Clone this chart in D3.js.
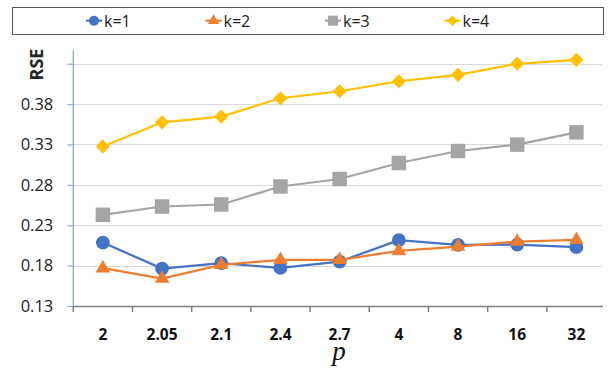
<!DOCTYPE html>
<html>
<head>
<meta charset="utf-8">
<script src="https://cdn.jsdelivr.net/npm/d3@7"></script>
<style>
  html, body { margin: 0; padding: 0; background: #fff; }
  svg { display: block; }
</style>
</head>
<body>
<svg id="chart" width="611" height="371"></svg>
<script>
// Categories on the x axis (values of p)
const categories = ["2", "2.05", "2.1", "2.4", "2.7", "4", "8", "16", "32"];

// RSE per k
const seriesNames = ["k=1", "k=2", "k=3", "k=4"];
const k1 = [0.2085, 0.1763, 0.1830, 0.1771, 0.1850, 0.2115, 0.2057, 0.2061, 0.2028];
const k2 = [0.1768, 0.1639, 0.1809, 0.1871, 0.1871, 0.1982, 0.2036, 0.2098, 0.2119];
const k3 = [0.2429, 0.2532, 0.2557, 0.2780, 0.2872, 0.3070, 0.3219, 0.3298, 0.3450];
const k4 = [0.3276, 0.3574, 0.3645, 0.3872, 0.3959, 0.4083, 0.4162, 0.4299, 0.4348];

// Y axis tick values; the top one carries no label
const yTicks = [0.13, 0.18, 0.23, 0.28, 0.33, 0.38, 0.43];
const yLabelled = [0.13, 0.18, 0.23, 0.28, 0.33, 0.38];

// diamond drawn as a square turned by 45 degrees
const symbolRhombus = {
  draw(context, size) {
    const r = Math.sqrt(size / 2);
    context.moveTo(0, -r);
    context.lineTo(r, 0);
    context.lineTo(0, r);
    context.lineTo(-r, 0);
    context.closePath();
  }
};

const series = [
  { name: seriesNames[0], values: k1, color: "#4472C4", symbol: d3.symbolCircle, size: 150, legendSize: 80 },
  { name: seriesNames[1], values: k2, color: "#ED7D31", symbol: d3.symbolTriangle, size: 92, legendSize: 55 },
  { name: seriesNames[2], values: k3, color: "#A5A5A5", symbol: d3.symbolSquare, size: 210, legendSize: 100 },
  { name: seriesNames[3], values: k4, color: "#FFC000", symbol: symbolRhombus, size: 100, legendSize: 55 }
];

const svg = d3.select("#chart");

const plot = { left: 73.3, right: 606, axisEnd: 603, top: 50, bottom: 306 };

const x = d3.scaleBand().domain(categories).range([plot.left, plot.right]).padding(0);
const y = d3.scaleLinear().domain([0.13, 0.43]).range([plot.bottom, 63.7]);

// horizontal gridlines
svg.append("g")
  .selectAll("line")
  .data(yTicks.slice(1))
  .join("line")
  .attr("x1", plot.left).attr("x2", plot.axisEnd)
  .attr("y1", d => Math.round(y(d)) + 0.5).attr("y2", d => Math.round(y(d)) + 0.5)
  .attr("stroke", "#d9d9d9").attr("stroke-width", 1.2);

// y axis (light blue line and outward ticks)
const yAxis = d3.axisLeft(y)
  .tickValues(yTicks)
  .tickSize(6)
  .tickPadding(14)
  .tickFormat(d => yLabelled.includes(d) ? d3.format(".2f")(d) : "");
const gy = svg.append("g").attr("transform", `translate(${plot.left},0)`).call(yAxis);
gy.select(".domain").remove();
gy.selectAll(".tick line").attr("stroke", "#8fAADC").attr("stroke-width", 1.2);
gy.selectAll(".tick text")
  .attr("fill", "#222")
  .style("font-family", "'Open Sans', sans-serif")
  .style("font-size", "16.5px");
svg.append("line")
  .attr("x1", plot.left).attr("x2", plot.left)
  .attr("y1", plot.top).attr("y2", plot.bottom)
  .attr("stroke", "#8fAADC").attr("stroke-width", 1.3);

// x axis: line plus ticks on category boundaries
svg.append("line")
  .attr("x1", plot.left).attr("x2", plot.axisEnd)
  .attr("y1", plot.bottom + 0.5).attr("y2", plot.bottom + 0.5)
  .attr("stroke", "#7f7f7f").attr("stroke-width", 1.5);
svg.append("g")
  .selectAll("line")
  .data(categories)
  .join("line")
  .attr("x1", d => x(d)).attr("x2", d => x(d))
  .attr("y1", plot.bottom).attr("y2", plot.bottom + 6)
  .attr("stroke", "#7f7f7f").attr("stroke-width", 1.5);

svg.append("g")
  .selectAll("text")
  .data(categories)
  .join("text")
  .attr("x", d => x(d) + x.bandwidth() / 2)
  .attr("y", 340)
  .attr("text-anchor", "middle")
  .attr("fill", "#111")
  .style("font-family", "'Open Sans', sans-serif")
  .style("font-weight", "bold")
  .style("font-size", "15.5px")
  .text(d => d);

// axis titles
svg.append("text")
  .attr("transform", "translate(43,64.5) rotate(-90)")
  .attr("text-anchor", "middle")
  .attr("fill", "#262626")
  .style("font-family", "'Open Sans', sans-serif")
  .style("font-weight", "bold")
  .style("font-size", "18px")
  .text("RSE");

svg.append("text")
  .attr("x", 339).attr("y", 359.5)
  .attr("text-anchor", "middle")
  .attr("fill", "#111")
  .style("font-family", "'Liberation Serif', serif")
  .style("font-style", "italic")
  .style("font-size", "27px")
  .text("p");

// lines and markers
const line = d3.line()
  .x((d, i) => x(categories[i]) + x.bandwidth() / 2)
  .y(d => y(d));

series.forEach(s => {
  const g = svg.append("g");
  g.append("path")
    .attr("d", line(s.values))
    .attr("fill", "none")
    .attr("stroke", s.color)
    .attr("stroke-width", 2.2);
  g.selectAll("path.m")
    .data(s.values)
    .join("path")
    .attr("class", "m")
    .attr("transform", (d, i) => `translate(${x(categories[i]) + x.bandwidth() / 2},${y(d)})`)
    .attr("d", d3.symbol().type(s.symbol).size(s.size))
    .attr("fill", s.color);
});

// legend
const legend = svg.append("g");
legend.append("rect")
  .attr("x", 12.5).attr("y", 7.5).attr("width", 591).attr("height", 27)
  .attr("fill", "#fff").attr("stroke", "#595959").attr("stroke-width", 1);

series.forEach((s, i) => {
  const lx = 86 + i * 119.5;
  const ly = 20.7;
  const item = legend.append("g");
  item.append("line")
    .attr("x1", lx).attr("x2", lx + 16)
    .attr("y1", ly).attr("y2", ly)
    .attr("stroke", s.color).attr("stroke-width", 2.2);
  item.append("path")
    .attr("transform", `translate(${lx + 8},${ly})`)
    .attr("d", d3.symbol().type(s.symbol).size(s.legendSize))
    .attr("fill", s.color);
  item.append("text")
    .attr("x", lx + 18).attr("y", ly + 5.8)
    .attr("fill", "#222")
    .style("font-family", "'Open Sans', sans-serif")
    .style("font-size", "16px")
    .text(s.name);
});
</script>
</body>
</html>
